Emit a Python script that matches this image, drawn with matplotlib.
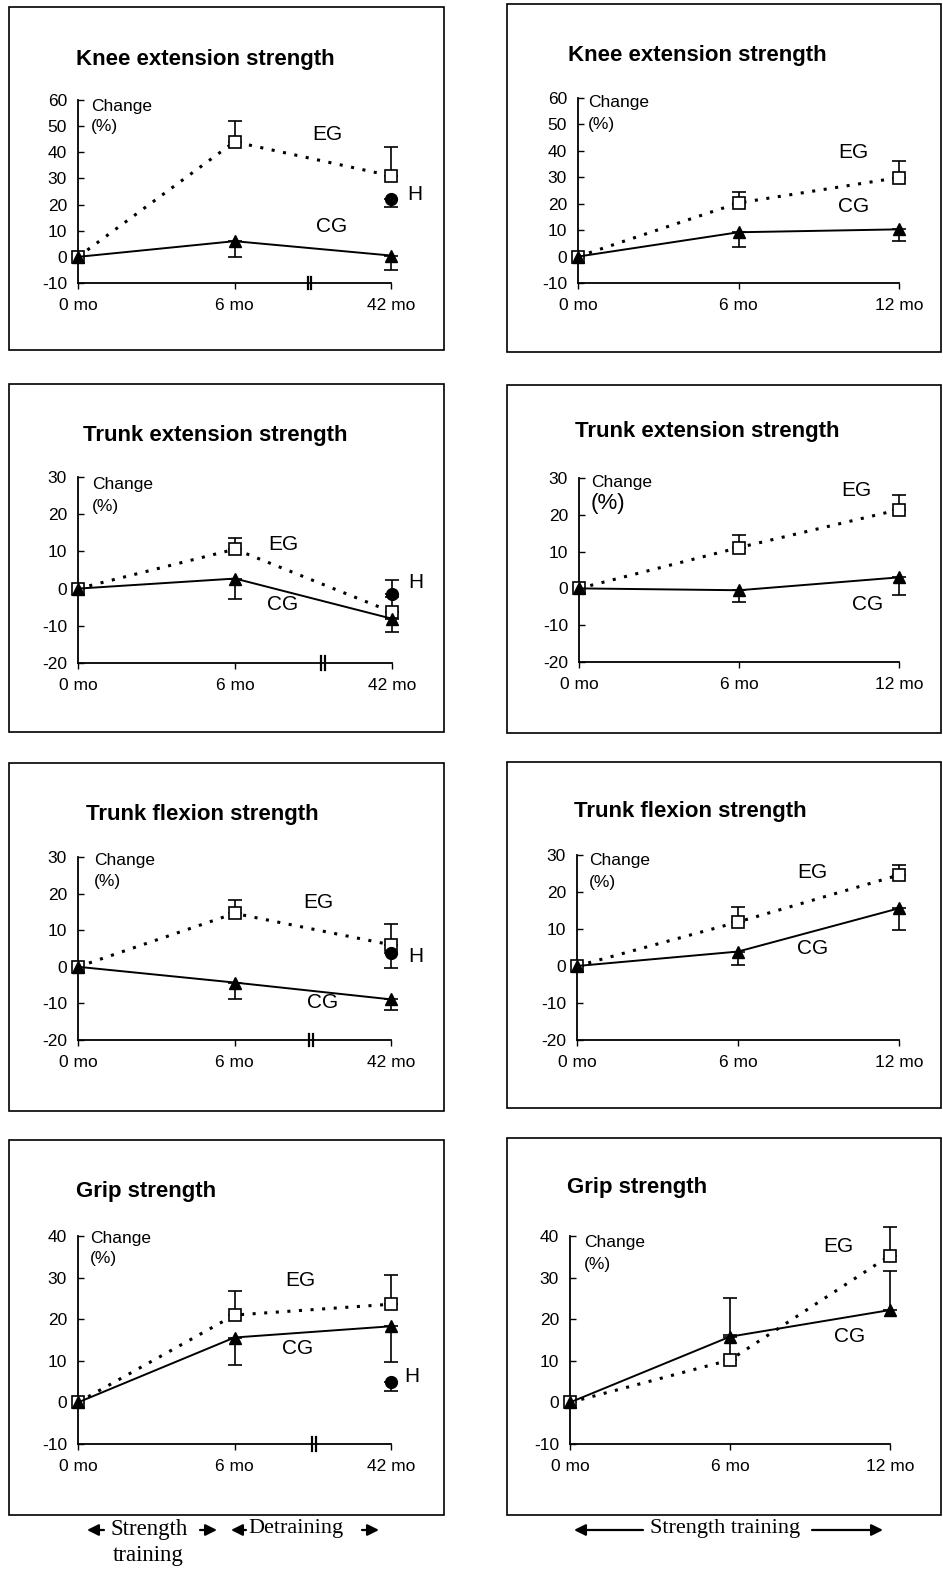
import numpy as np
import matplotlib.pyplot as plt
from matplotlib.patches import Rectangle, FancyArrowPatch

plt.rcParams['font.family'] = ['Liberation Sans', 'DejaVu Sans']
plt.rcParams['axes.unicode_minus'] = False

W, H = 943, 1571
fig = plt.figure(figsize=(W / 100, H / 100), dpi=100)


def fx(px):
    return px / W


def fy(py):
    return 1 - py / H


# ---- data ----
titles = ['Knee extension strength', 'Trunk extension strength',
          'Trunk flexion strength', 'Grip strength']
left_months = ['0 mo', '6 mo', '42 mo']
right_months = ['0 mo', '6 mo', '12 mo']
left_x = [0, 1, 2]
right_x = [0, 6, 12]
y_ranges = [(-10, 60), (-20, 30), (-20, 30), (-10, 40)]

# left column: strength training 0-6 mo, detraining 6-42 mo
# error values: positive = bar drawn upward, negative = downward
eg_left = [[0, 44, 31], [0, 10.6, -6.3], [0, 14.6, 6], [0, 21, 23.6]]
eg_left_err = [[0, 8, 11], [0, 3.1, 4], [0, 3.7, 5.7], [0, 5.7, 7]]
cg_left = [[0, 6, 0.5], [0, 2.7, -8.1], [0, -4.3, -8.9], [0, 15.6, 18.3]]
cg_left_err = [[0, -6, -5.5], [0, -5.4, -3.6], [0, -4.5, -2.9], [0, -6.7, -8.6]]
h_left = [22, -1.4, 3.8, 4.8]
h_left_err = [-3, 3.7, -4, -2.1]

# right column: strength training 0-12 mo
eg_right = [[0, 20.3, 29.9], [0, 11.1, 21.4], [0, 11.9, 24.6], [0, 10.2, 35.3]]
eg_right_err = [[0, 4.3, 6.1], [0, 3.4, 4.1], [0, 4, 2.7], [0, 6, 6.9]]
cg_right = [[0, 9.2, 10.3], [0, -0.5, 3], [0, 3.9, 15.6], [0, 15.8, 22.2]]
cg_right_err = [[0, -5.6, -4.5], [0, -3.3, -4.8], [0, -3.6, -6], [0, 9.2, 9.5]]

# ---- layout (pixels) ----
boxes_left = [(9, 7, 444, 350), (9, 384, 444, 732), (9, 763, 444, 1111), (9, 1140, 444, 1515)]
boxes_right = [(507, 4, 941, 352), (507, 385, 941, 733), (507, 762, 941, 1108), (507, 1138, 941, 1515)]
axes_left = [(78, 391, 100, 283), (78, 392, 477, 663), (78, 391, 857, 1040), (78, 391, 1236, 1444)]
axes_right = [(578, 899, 98, 283), (579, 899, 478, 662), (577, 899, 855, 1040), (570, 890, 1236, 1444)]
title_left = [(76, 60), (83, 435), (86, 815), (76, 1192)]
title_right = [(568, 56), (575, 432), (574, 811), (567, 1188)]
change_left = [(91, 106), (92, 485), (94, 861), (90, 1238)]
change_right = [(588, 102), (591, 482), (589, 861), (584, 1243)]
lab_left = [[(327, 135), (332, 226), (415, 195)],
            [(283, 545), (283, 604), (416, 583)],
            [(318, 903), (323, 1003), (416, 956)],
            [(300, 1280), (298, 1348), (412, 1376)]]
lab_right = [[(853, 153), (854, 207)],
             [(856, 490), (868, 604)],
             [(812, 872), (813, 949)],
             [(838, 1247), (850, 1337)]]
breaks = [1.48, 1.56, 1.49, 1.51]


def split_err(err):
    lo = [max(-e, 0) for e in err]
    hi = [max(e, 0) for e in err]
    return lo, hi


def draw_err(ax, xs, ys, err):
    keep = [i for i, e in enumerate(err) if e != 0]
    if not keep:
        return
    lo, hi = split_err([err[i] for i in keep])
    ax.errorbar([xs[i] for i in keep], [ys[i] for i in keep], yerr=[lo, hi],
                fmt='none', ecolor='k', elinewidth=1.2, capsize=5,
                capthick=1.2, clip_on=False, zorder=2)


def setup(ax, yr, xs, labels):
    ax.set_xlim(xs[0], xs[-1])
    ax.set_ylim(yr)
    for s in ['top', 'right']:
        ax.spines[s].set_visible(False)
    for s in ['left', 'bottom']:
        ax.spines[s].set_linewidth(1.3)
    ax.set_yticks(np.arange(yr[0], yr[1] + 1, 10))
    ax.tick_params(axis='y', direction='in', length=4, width=1, labelsize=12.5, pad=8)
    ax.set_xticks(xs)
    ax.set_xticklabels(labels)
    ax.tick_params(axis='x', direction='out', length=4, width=1, labelsize=12.5, pad=7)
    ax.patch.set_alpha(0)


def make_ax(r):
    x0, x1, yt, yb = r
    return fig.add_axes([fx(x0), fy(yb), (x1 - x0) / W, (yb - yt) / H])


line_eg = dict(color='k', lw=2.2, linestyle=(0, (1, 2.8)), marker='s', ms=8.5,
               mfc='white', mec='k', mew=1.2, clip_on=False, zorder=3)
line_cg = dict(color='k', lw=1.4, linestyle='-', marker='^', ms=8.5,
               mfc='k', mec='k', clip_on=False, zorder=4)

for i in range(4):
    # boxes
    for b in (boxes_left[i], boxes_right[i]):
        fig.add_artist(Rectangle((fx(b[0]), fy(b[3])), (b[2] - b[0]) / W, (b[3] - b[1]) / H,
                                 transform=fig.transFigure, fill=False, lw=1.2, ec='k'))

    # left panel
    ax = make_ax(axes_left[i])
    setup(ax, y_ranges[i], left_x, left_months)
    ax.plot(left_x, eg_left[i], **line_eg)
    ax.plot(left_x, cg_left[i], **line_cg)
    draw_err(ax, left_x, eg_left[i], eg_left_err[i])
    draw_err(ax, left_x, cg_left[i], cg_left_err[i])
    draw_err(ax, [left_x[-1]], [h_left[i]], [h_left_err[i]])
    ax.plot([left_x[-1]], [h_left[i]], marker='o', ms=8.5, color='k', clip_on=False, zorder=5)
    tr = ax.get_xaxis_transform()
    for d in (-0.012, 0.012):
        ax.plot([breaks[i] + d] * 2, [-0.035, 0.035], color='k', lw=1.6,
                transform=tr, clip_on=False)

    fig.text(fx(title_left[i][0]), fy(title_left[i][1]), titles[i], fontsize=16,
             fontweight='bold', ha='left', va='center')
    cx, cy = change_left[i]
    fig.text(fx(cx), fy(cy), 'Change', fontsize=12.5, ha='left', va='center')
    fig.text(fx(cx), fy(cy + 21), '(%)', fontsize=12.5, ha='left', va='center')
    for txt, (px, py) in zip(['EG', 'CG', 'H'], lab_left[i]):
        fig.text(fx(px), fy(py), txt, fontsize=15, ha='center', va='center')

    # right panel
    ax = make_ax(axes_right[i])
    setup(ax, y_ranges[i], right_x, right_months)
    ax.plot(right_x, eg_right[i], **line_eg)
    ax.plot(right_x, cg_right[i], **line_cg)
    draw_err(ax, right_x, eg_right[i], eg_right_err[i])
    draw_err(ax, right_x, cg_right[i], cg_right_err[i])

    fig.text(fx(title_right[i][0]), fy(title_right[i][1]), titles[i], fontsize=16,
             fontweight='bold', ha='left', va='center')
    cx, cy = change_right[i]
    fig.text(fx(cx), fy(cy), 'Change', fontsize=12.5, ha='left', va='center')
    fig.text(fx(cx), fy(cy + 22), '(%)', fontsize=16 if i == 1 else 12.5,
             ha='left', va='center')
    for txt, (px, py) in zip(['EG', 'CG'], lab_right[i]):
        fig.text(fx(px), fy(py), txt, fontsize=15, ha='center', va='center')


# ---- bottom phase labels ----
def arrow(x0, x1, y):
    fig.add_artist(FancyArrowPatch((fx(x0), fy(y)), (fx(x1), fy(y)),
                                   transform=fig.transFigure, arrowstyle='-|>',
                                   mutation_scale=17, lw=1.6, color='k',
                                   shrinkA=0, shrinkB=0))


serif = ['Liberation Serif', 'DejaVu Serif']
fig.text(fx(110), fy(1529), 'Strength', family=serif, fontsize=16.5, ha='left', va='center')
fig.text(fx(113), fy(1556), 'training', family=serif, fontsize=16.5, ha='left', va='center')
fig.text(fx(248), fy(1529), 'Detraining', family=serif, fontsize=16, ha='left', va='center')
fig.text(fx(650), fy(1529), 'Strength training', family=serif, fontsize=16, ha='left', va='center')
arrow(104, 87, 1530)
arrow(200, 217, 1530)
arrow(246, 231, 1530)
arrow(362, 379, 1530)
arrow(643, 574, 1530)
arrow(812, 883, 1530)

plt.savefig('out.png', dpi=100)
